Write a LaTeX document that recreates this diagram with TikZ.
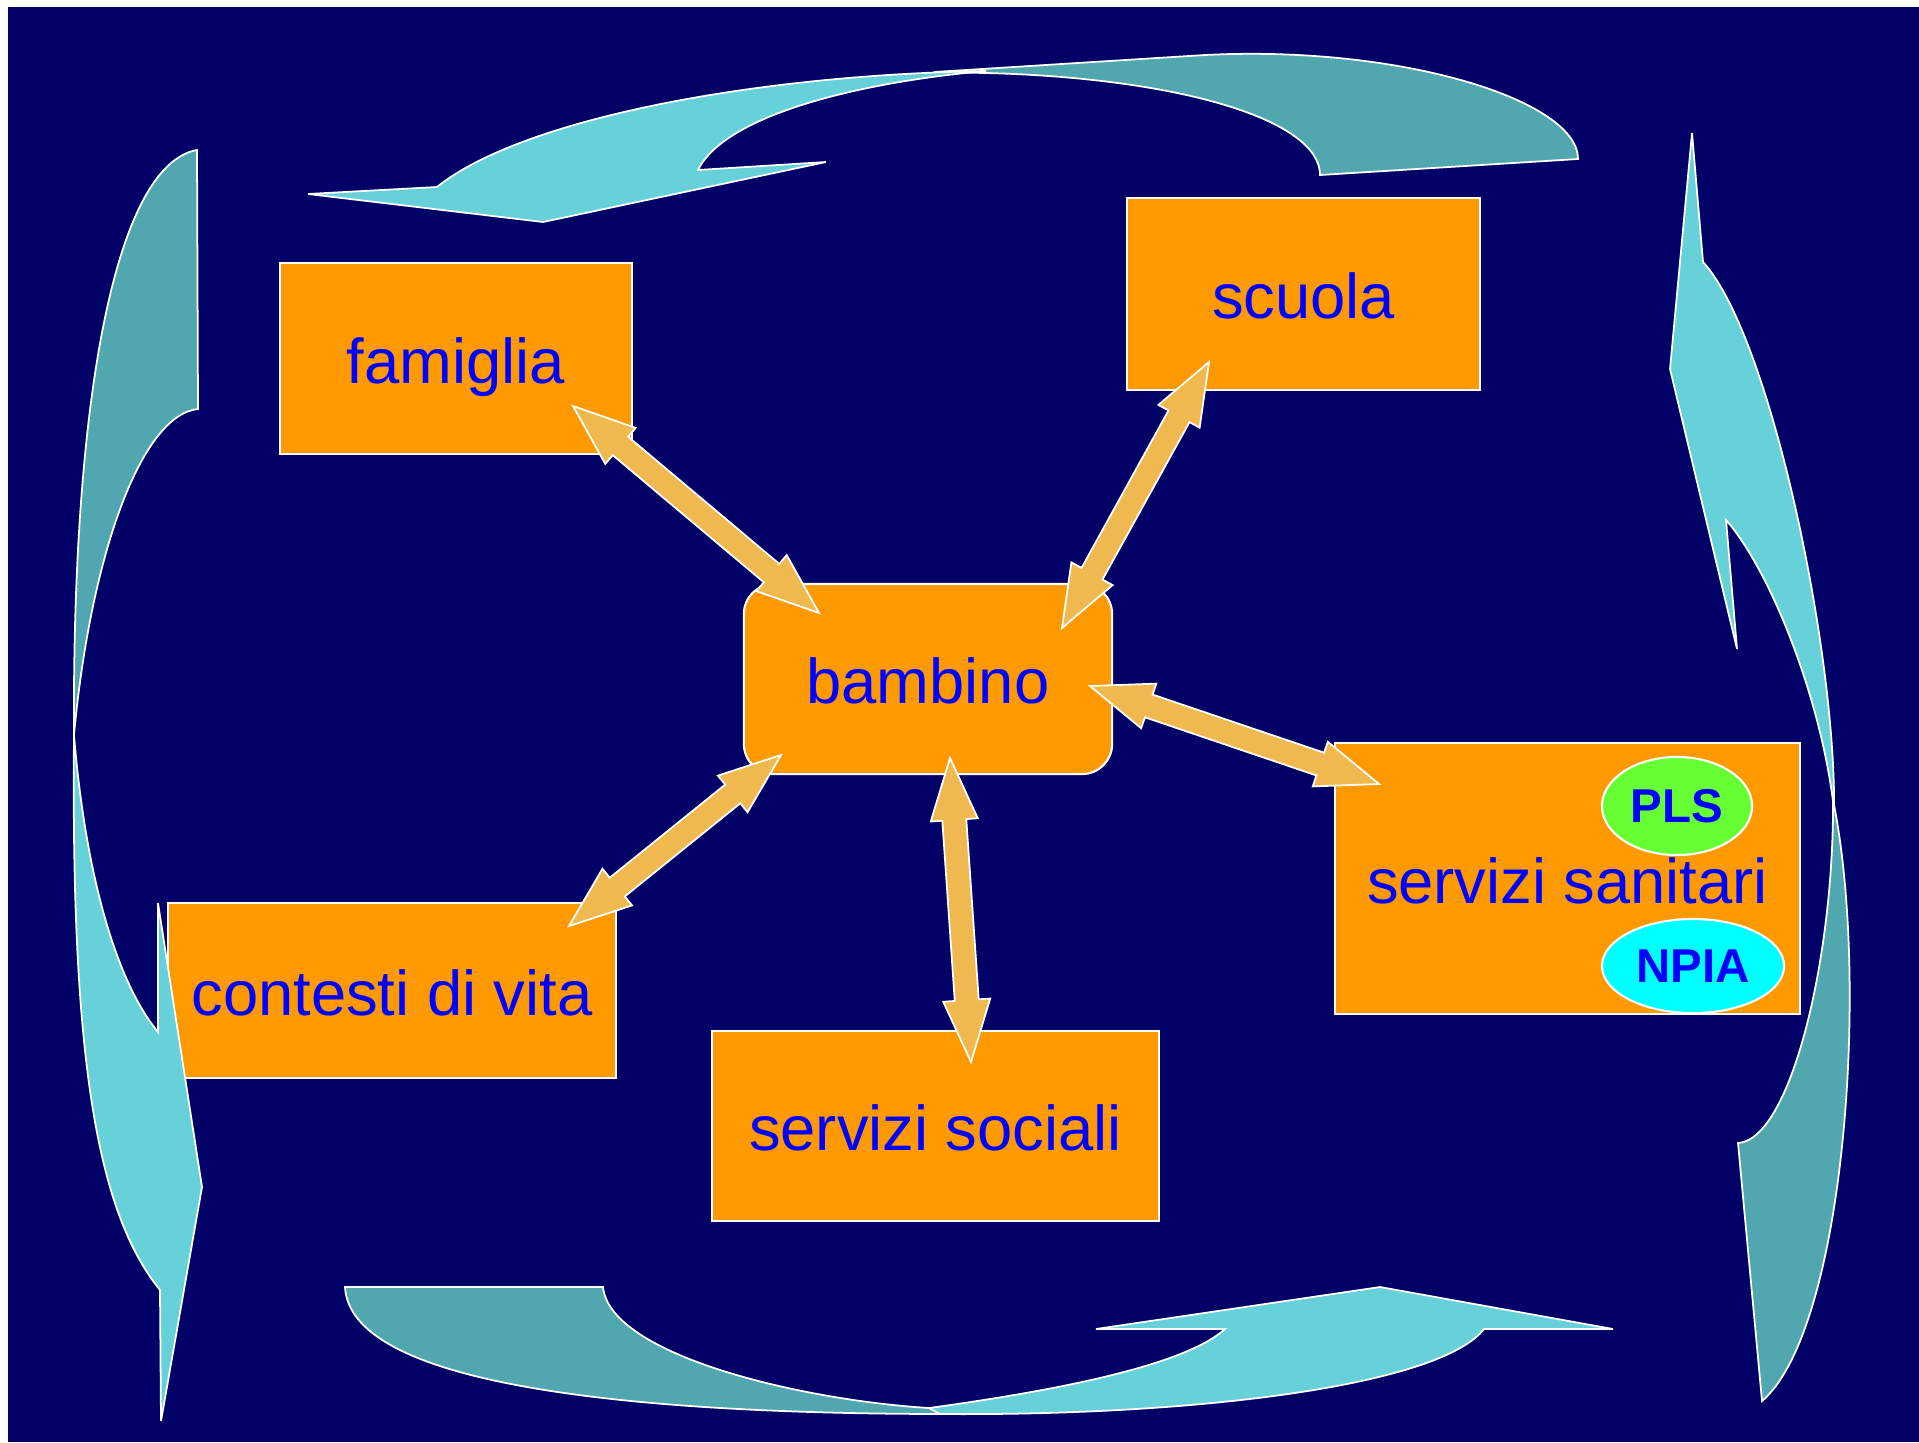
\documentclass[tikz,border=0pt]{standalone}
\usepackage{fontspec}
\setmainfont{Liberation Sans}
\usetikzlibrary{calc, shapes.geometric}

\definecolor{bgnavy}{RGB}{0,0,102}
\definecolor{boxorange}{RGB}{255,153,0}
\definecolor{frontcyan}{RGB}{102,209,217}
\definecolor{backteal}{RGB}{80,167,176}
\definecolor{arrowgold}{RGB}{239,185,79}
\definecolor{plsgreen}{RGB}{102,255,51}
\definecolor{npiacyan}{RGB}{0,255,255}

\begin{document}
\begin{tikzpicture}[x=0.01cm, y=-0.01cm,
        boxnode/.style={draw=white, line width=0.6pt, fill=boxorange, text=blue, inner sep=0pt,
            text height=14pt, text depth=0pt, font=\fontsize{18}{20}\selectfont},
        badge/.style={ellipse, draw=white, line width=0.6pt, inner sep=0pt, text=blue,
            font=\fontsize{13.5}{15}\selectfont\bfseries},
        backband/.style={draw=white, line width=0.5pt, fill=backteal},
        frontband/.style={draw=white, line width=0.5pt, fill=frontcyan},
        twoway/.style={draw=white, line width=0.5pt, fill=arrowgold}]

        \useasboundingbox (0,0) rectangle (1919,1442);
        \fill[white] (0,0) rectangle (1919,1442);
        \fill[bgnavy] (8,7) rectangle (1919,1442);

        \node[boxnode, minimum width=3.52cm, minimum height=1.91cm] (famiglia) at (456,358.5) {famiglia};
        \node[boxnode, minimum width=3.53cm, minimum height=1.92cm] (scuola) at (1303.5,294) {scuola};
        \node[boxnode, minimum width=3.68cm, minimum height=1.9cm, rounded corners=0.3cm] (bambino) at (928,679) {bambino};
        \node[boxnode, minimum width=4.65cm, minimum height=2.71cm] (sanitari) at (1567.5,878.5) {servizi sanitari};
        \node[boxnode, minimum width=4.48cm, minimum height=1.75cm] (contesti) at (392,990.5) {contesti di vita};
        \node[boxnode, minimum width=4.47cm, minimum height=1.9cm] (sociali) at (935.5,1126) {servizi sociali};

        \node[badge, fill=plsgreen, minimum width=1.5cm, minimum height=0.98cm] (pls) at (1677,806) {PLS};
        \node[badge, fill=npiacyan, minimum width=1.82cm, minimum height=0.94cm] (npia) at (1693,966) {NPIA};

        % curved arrows round the edge
        \filldraw[backband] (1320,175) .. controls (1320,120) and (1180,78) .. (986,73) -- (934,72) -- (1205,55)
            .. controls (1400,45) and (1578,100) .. (1578,159) -- cycle;
        \filldraw[frontband] (437,187) .. controls (520,120) and (750,75) .. (986,71)
            .. controls (860,82) and (725,115) .. (698,170) -- (826,162) -- (543,222) -- (308,194) -- cycle;

        \filldraw[backband] (1738,1143) -- (1762,1401) .. controls (1845,1330) and (1870,980) .. (1833,800)
            .. controls (1834,960) and (1790,1140) .. (1738,1143) -- cycle;
        \filldraw[frontband] (1692,133) -- (1703,262) .. controls (1770,335) and (1836,650) .. (1834,810)
            .. controls (1822,700) and (1770,570) .. (1726,520) -- (1737,649) -- (1670,369) -- cycle;

        \filldraw[backband] (345,1287) -- (603,1287) .. controls (610,1355) and (800,1400) .. (929,1408) -- (950,1414)
            .. controls (600,1414) and (350,1380) .. (345,1287) -- cycle;
        \filldraw[frontband] (929,1408) .. controls (1060,1390) and (1185,1365) .. (1225,1329) -- (1096,1329)
            -- (1380,1287) -- (1613,1329) -- (1484,1329) .. controls (1440,1385) and (1200,1416) .. (940,1414) -- cycle;

        \filldraw[backband] (197,150) -- (198,409) .. controls (140,415) and (90,560) .. (74,735)
            .. controls (72,400) and (115,165) .. (197,150) -- cycle;
        \filldraw[frontband] (158,1032) .. controls (115,980) and (85,870) .. (74,735)
            .. controls (71,1050) and (95,1210) .. (160,1290) -- (161,1421) -- (202,1187) -- (158,903) -- cycle;

        % arrows to and from bambino
        \coordinate (fam-tip) at (573,406);
        \coordinate (bam-fam) at (819,613);
        \coordinate (scu-tip) at (1209,362);
        \coordinate (bam-scu) at (1062,628);
        \coordinate (san-tip) at (1379,784);
        \coordinate (bam-san) at (1090,686);
        \coordinate (con-tip) at (569,926);
        \coordinate (bam-con) at (781,755);
        \coordinate (soc-tip) at (971,1062);
        \coordinate (bam-soc) at (950,758);

        \foreach \a/\b in {fam-tip/bam-fam, scu-tip/bam-scu, san-tip/bam-san, con-tip/bam-con, soc-tip/bam-soc} {
            \filldraw[twoway] let \p1=($(\b)-(\a)$), \n1={atan2(\y1,\x1)} in
                (\a) -- ($(\a)+(\n1+20.8:0.663cm)$) -- ($(\a)+(\n1+10.95:0.6315cm)$)
                -- ($(\b)+(\n1+169.05:0.6315cm)$) -- ($(\b)+(\n1+159.2:0.663cm)$) -- (\b)
                -- ($(\b)+(\n1+200.8:0.663cm)$) -- ($(\b)+(\n1+190.95:0.6315cm)$)
                -- ($(\a)+(\n1-10.95:0.6315cm)$) -- ($(\a)+(\n1-20.8:0.663cm)$) -- cycle;
        }

    \end{tikzpicture}
\end{document}
